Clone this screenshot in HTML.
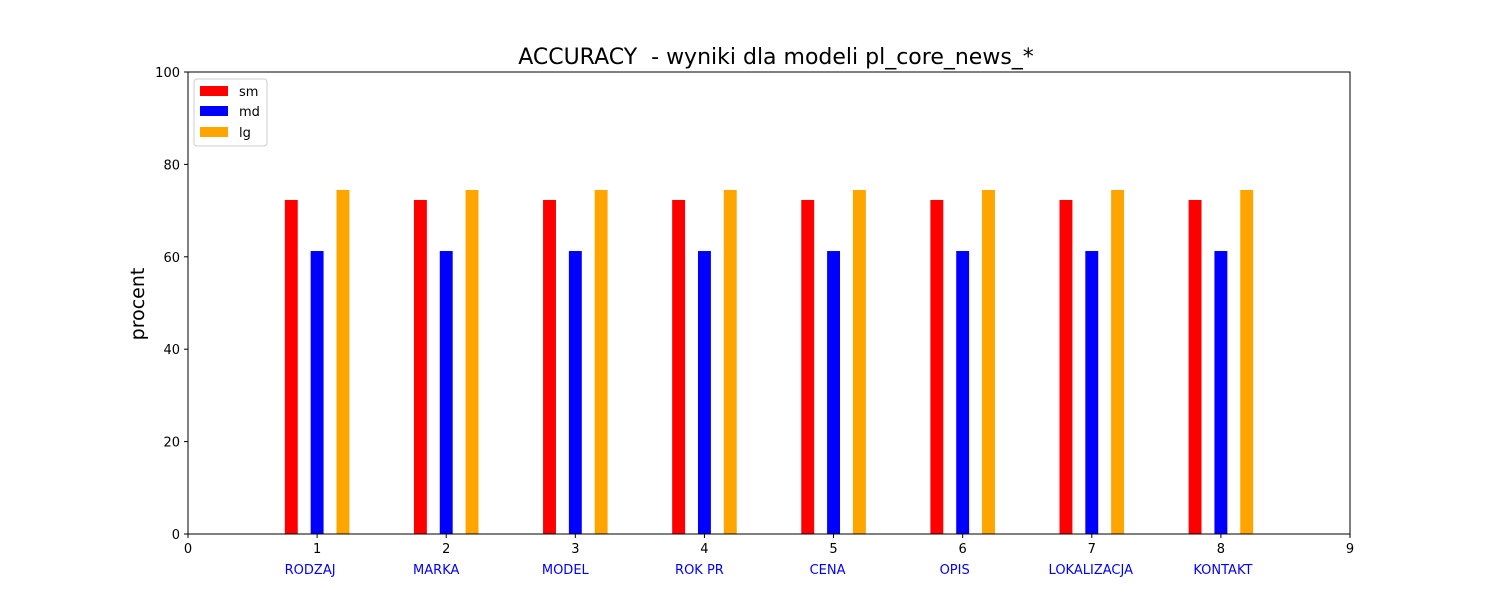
<!DOCTYPE html>
<html><head><meta charset="utf-8"><style>
body{margin:0;background:#fff;font-family:"Liberation Sans","DejaVu Sans",sans-serif;}
svg text{font-family:"DejaVu Sans","Liberation Sans",sans-serif;}
</style></head><body>
<svg id="chart" width="1500" height="600" xmlns="http://www.w3.org/2000/svg">
<rect width="1500" height="600" fill="#fff"/>
<text x="776" y="64" font-size="22" text-anchor="middle" xml:space="preserve" style="white-space:pre">ACCURACY  - wyniki dla modeli pl_core_news_*</text>
<text x="0" y="0" font-size="19" text-anchor="middle" transform="translate(144,304) rotate(-90)">procent</text>
<g id="bars"></g>
<g id="axes"></g>
<g>
<rect x="194" y="79" width="73" height="67" fill="#fff" stroke="#ccc" rx="3"/>
<rect x="200" y="86" width="28" height="10" fill="red"/>
<text x="239" y="96" font-size="13">sm</text>
<rect x="200" y="106" width="28" height="10" fill="blue"/>
<text x="239" y="116" font-size="13">md</text>
<rect x="200" y="127" width="28" height="10" fill="orange"/>
<text x="239" y="137" font-size="13">lg</text>
</g>
</svg>
<script>
const categories=["RODZAJ","MARKA","MODEL","ROK PR","CENA","OPIS","LOKALIZACJA","KONTAKT"];
const smValues=[72.3,72.3,72.3,72.3,72.3,72.3,72.3,72.3];
const mdValues=[61.25,61.25,61.25,61.25,61.25,61.25,61.25,61.25];
const lgValues=[74.46,74.46,74.46,74.46,74.46,74.46,74.46,74.46];
const xTicks=[0,1,2,3,4,5,6,7,8,9];
const yTicks=[0,20,40,60,80,100];
const labelOffsets=[-7,-10,-10,-5,-6,-8,-1,2];
const NS="http://www.w3.org/2000/svg";
const L=188,R=1350,T=72,B=534;
const xs=v=>L+(v/9)*(R-L);
const ys=v=>B-(v/100)*(B-T);
function mk(tag,attrs,parent){const e=document.createElementNS(NS,tag);for(const k in attrs)e.setAttribute(k,attrs[k]);parent.appendChild(e);return e;}
const bars=document.getElementById('bars');
const series=[["sm",smValues,"red",-0.2],["md",mdValues,"blue",0],["lg",lgValues,"orange",0.2]];
series.forEach(([n,vals,col,off])=>{
 vals.forEach((v,i)=>{
  const x0=xs(i+1+off-0.05),x1=xs(i+1+off+0.05);
  const r=mk('rect',{x:x0,y:ys(v),width:x1-x0,height:ys(0)-ys(v),fill:col},bars);
  
  
 });
});
const ax=document.getElementById('axes');
const f=mk('rect',{x:L,y:T,width:R-L,height:B-T,fill:'none',stroke:'#000','stroke-width':1},ax);


xTicks.forEach(t=>{
 mk('line',{x1:xs(t),x2:xs(t),y1:B,y2:B+4,stroke:'#000'},ax);
 const tx=mk('text',{x:xs(t),y:B+19,'font-size':13,'text-anchor':'middle'},ax);
 tx.textContent=t;
 
 
});
yTicks.forEach(t=>{
 mk('line',{x1:L-4,x2:L,y1:ys(t),y2:ys(t),stroke:'#000'},ax);
 const tx=mk('text',{x:L-8,y:ys(t)+5,'font-size':13,'text-anchor':'end'},ax);
 tx.textContent=t;
 
 
});
categories.forEach((c,i)=>{
 const tx=mk('text',{x:xs(i+1)+labelOffsets[i],y:B+40,'font-size':13,'text-anchor':'middle',fill:'blue'},ax);
 tx.textContent=c;
 
 
});
</script>
</body></html>
